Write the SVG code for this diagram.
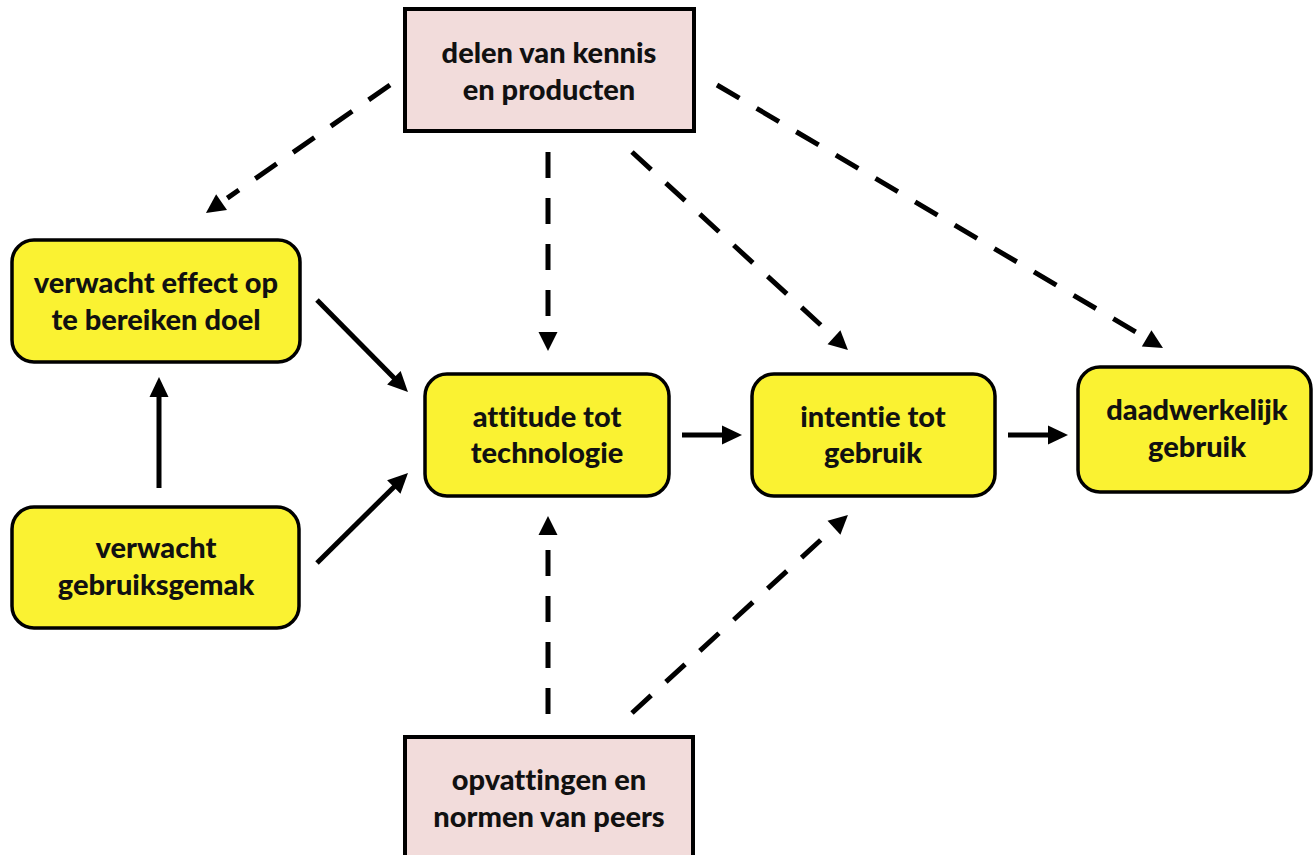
<svg xmlns="http://www.w3.org/2000/svg" width="1314" height="855" viewBox="0 0 1314 855">
  <style>
    .y { fill: #FAF232; stroke: #000; stroke-width: 3.5; }
    .p { fill: #F2DCDB; stroke: #000; stroke-width: 4; }
    .t { font-family: Lato, "Open Sans", "Liberation Sans", sans-serif; font-weight: 900; font-size: 29px; fill: #111; text-anchor: middle; font-variant-ligatures: none; }
    .d { stroke: #000; stroke-width: 5; fill: none; stroke-dasharray: 26 20; }
    .s { stroke: #000; stroke-width: 5; fill: none; }
  </style>
  <defs>
    <marker id="hd" markerUnits="userSpaceOnUse" markerWidth="40" markerHeight="40" viewBox="-5 -15 40 30" refX="0" refY="0" orient="auto" overflow="visible">
      <path d="M7,-9.5 L26,0 L7,9.5 z" fill="#000"/>
    </marker>
    <marker id="hs" markerUnits="userSpaceOnUse" markerWidth="40" markerHeight="40" viewBox="-5 -15 40 30" refX="0" refY="0" orient="auto" overflow="visible">
      <path d="M-2,-9.5 L18,0 L-2,9.5 z" fill="#000"/>
    </marker>
  </defs>
  <rect width="1314" height="855" fill="#fff"/>

  <g id="connectors">
    <line class="d" x1="390" y1="85" x2="227.3" y2="198.1" marker-end="url(#hd)"/>
    <line class="d" x1="548" y1="152" x2="548" y2="325" marker-end="url(#hd)"/>
    <line class="d" x1="632" y1="152" x2="828.8" y2="332.4" marker-end="url(#hd)"/>
    <line class="d" x1="717" y1="85" x2="1140.6" y2="334.8" marker-end="url(#hd)"/>
    <line class="d" x1="548" y1="714" x2="548" y2="542" marker-end="url(#hd)"/>
    <line class="d" x1="632" y1="713" x2="828.8" y2="532.6" marker-end="url(#hd)"/>
    <line class="s" x1="317" y1="300" x2="395.3" y2="379.2" marker-end="url(#hs)"/>
    <line class="s" x1="317" y1="563" x2="395.2" y2="485.7" marker-end="url(#hs)"/>
    <line class="s" x1="159" y1="488" x2="159" y2="395" marker-end="url(#hs)"/>
    <line class="s" x1="682" y1="435" x2="724" y2="435" marker-end="url(#hs)"/>
    <line class="s" x1="1008" y1="435" x2="1050" y2="435" marker-end="url(#hs)"/>
  </g>

  <g id="delen">
    <rect class="p" x="405" y="9" width="289" height="122"/>
    <text class="t" x="549" y="63">delen van kennis</text>
    <text class="t" x="549" y="100">en producten</text>
  </g>
  <g id="opvattingen">
    <rect class="p" x="405" y="737" width="288" height="130"/>
    <text class="t" x="549" y="790">opvattingen en</text>
    <text class="t" x="549" y="827">normen van peers</text>
  </g>
  <g id="effect">
    <rect class="y" x="12" y="240" width="288" height="122" rx="22"/>
    <text class="t" x="156" y="293">verwacht effect op</text>
    <text class="t" x="156" y="330">te bereiken doel</text>
  </g>
  <g id="gemak">
    <rect class="y" x="12" y="507" width="287" height="121" rx="22"/>
    <text class="t" x="156" y="558">verwacht</text>
    <text class="t" x="156" y="595">gebruiksgemak</text>
  </g>
  <g id="attitude">
    <rect class="y" x="425" y="374" width="244" height="122" rx="22"/>
    <text class="t" x="547" y="427">attitude tot</text>
    <text class="t" x="547" y="463">technologie</text>
  </g>
  <g id="intentie">
    <rect class="y" x="752" y="374" width="243" height="122" rx="22"/>
    <text class="t" x="873" y="427">intentie tot</text>
    <text class="t" x="873" y="463">gebruik</text>
  </g>
  <g id="daadwerkelijk">
    <rect class="y" x="1078" y="367" width="233" height="125" rx="22"/>
    <text class="t" x="1197" y="420">daadwerkelijk</text>
    <text class="t" x="1197" y="457">gebruik</text>
  </g>
</svg>
